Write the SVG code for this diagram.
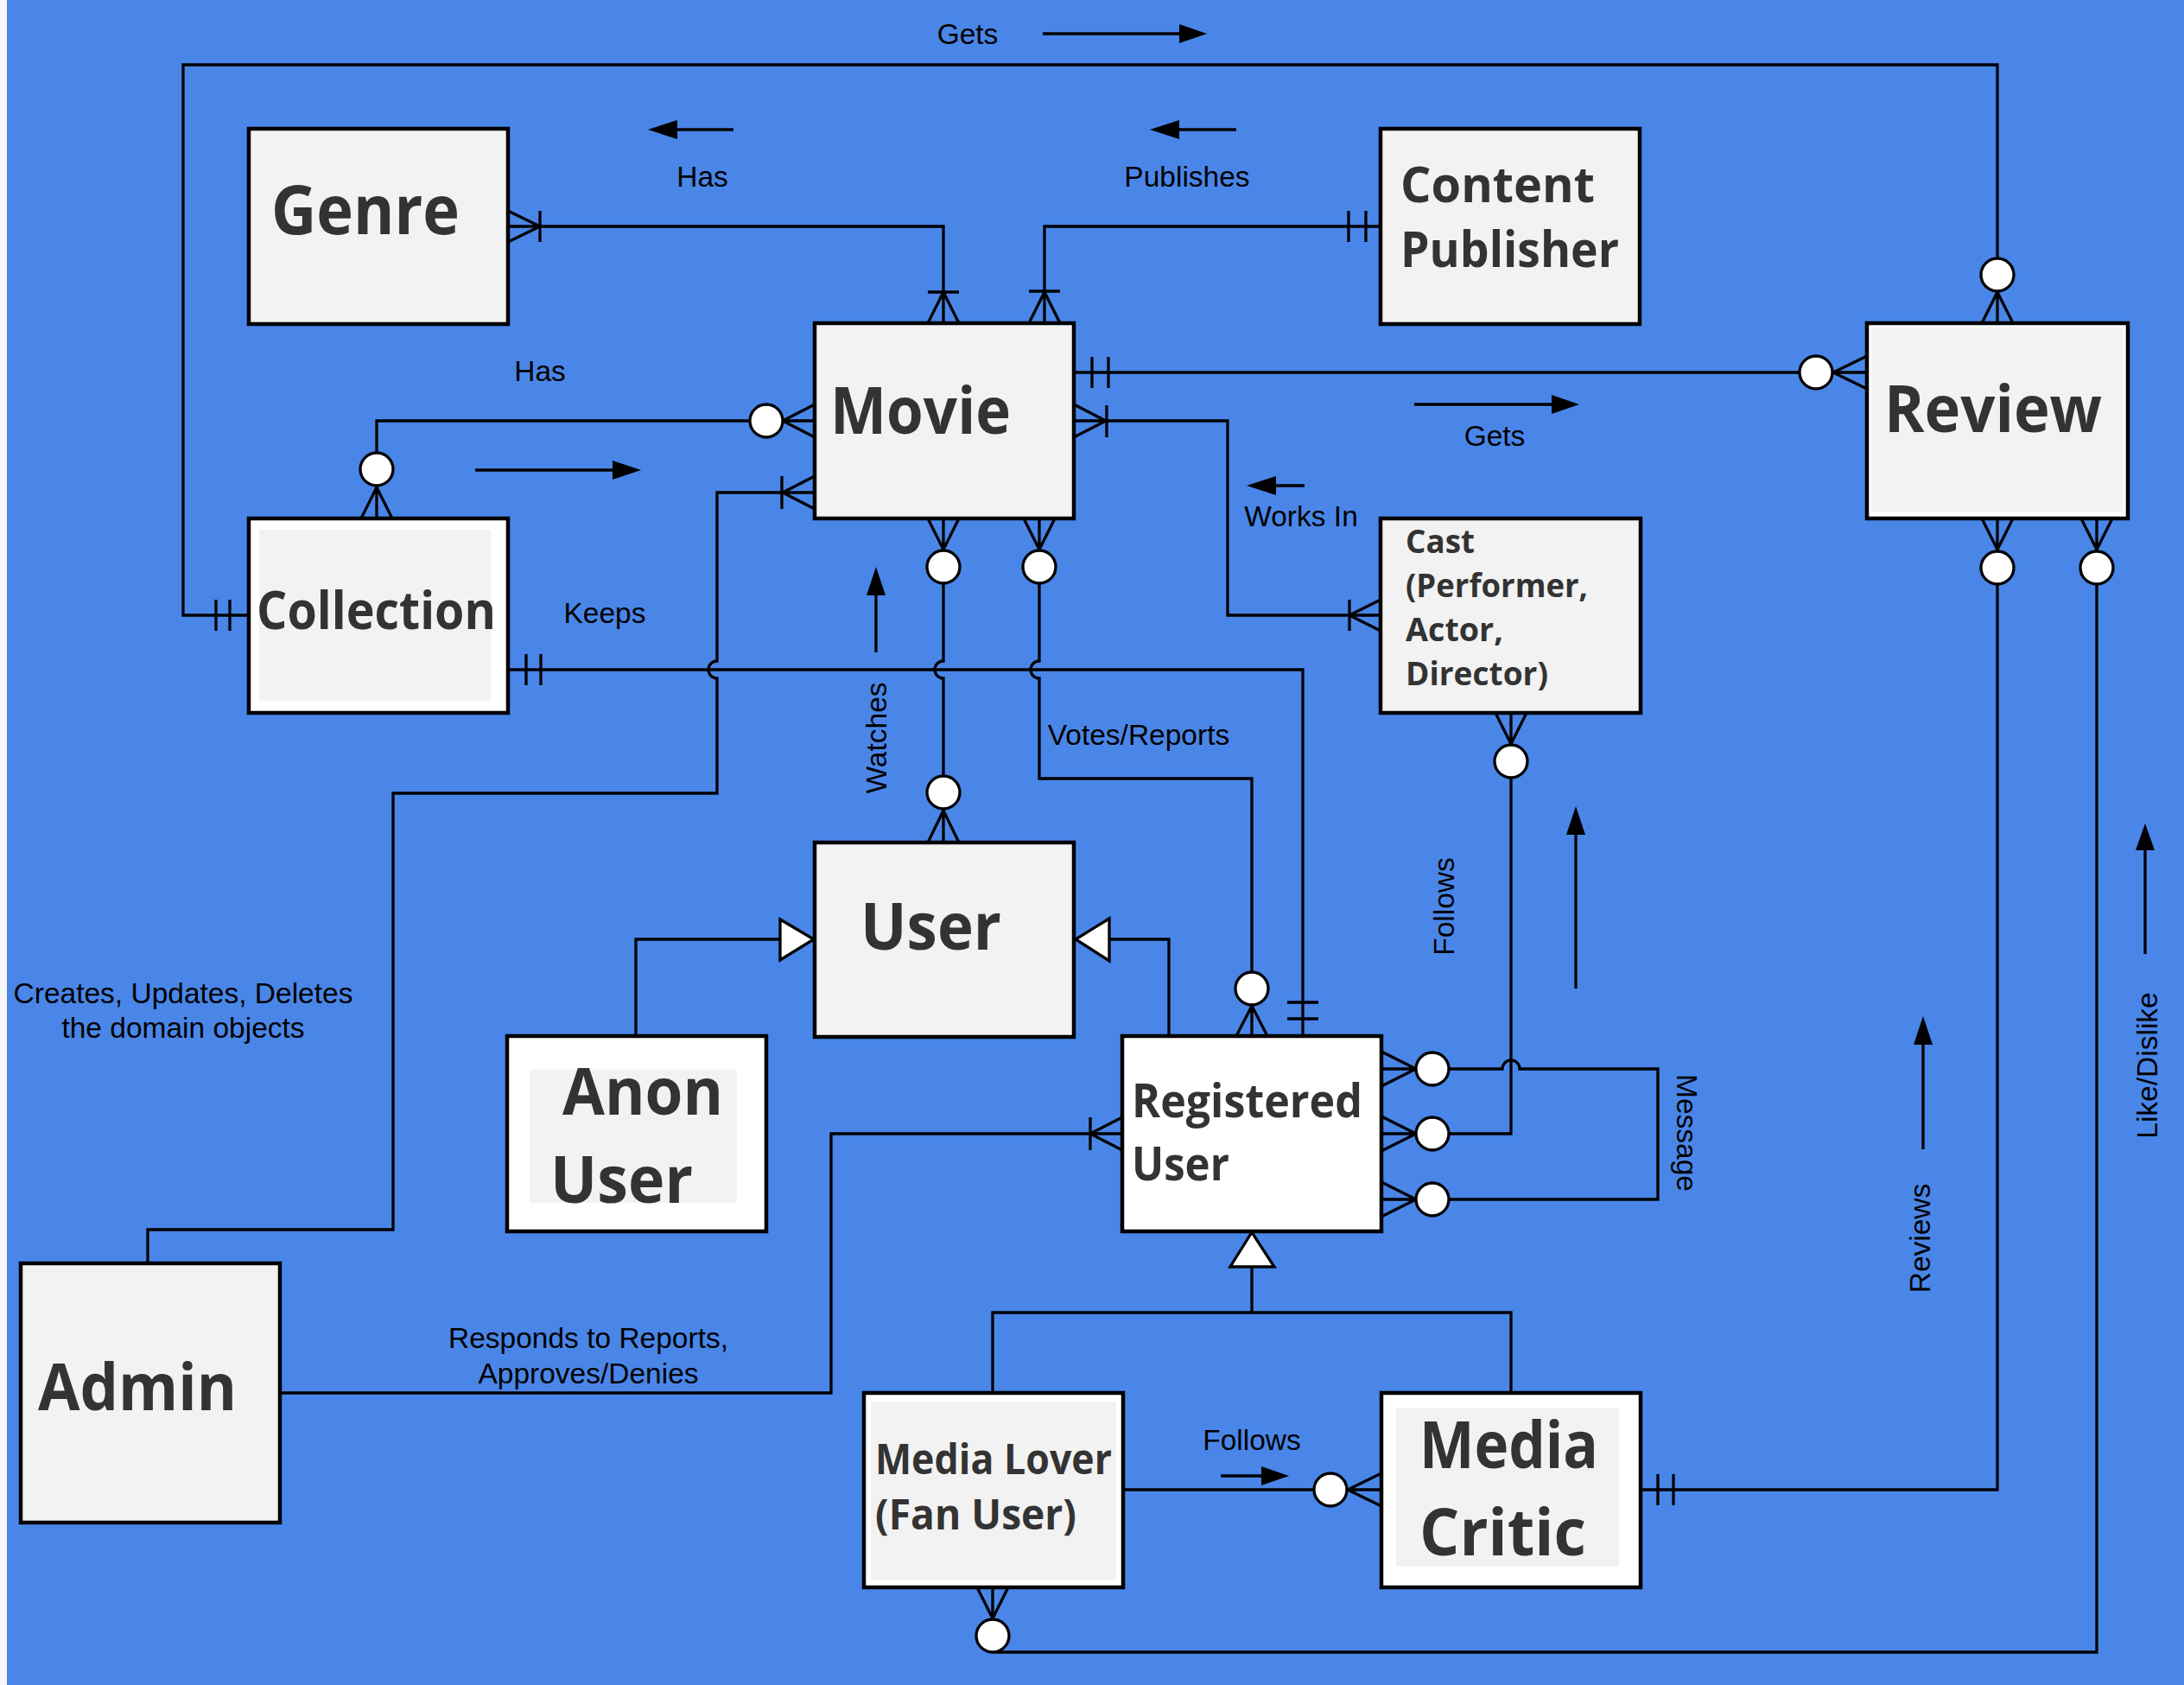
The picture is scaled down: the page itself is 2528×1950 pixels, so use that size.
<svg xmlns="http://www.w3.org/2000/svg" width="2528" height="1950" viewBox="0 0 2528 1950">
<style>
.ln{stroke:#000;stroke-width:3.3;fill:none}
.bx{stroke:#000;stroke-width:4.5}
.g{fill:#f2f2f2}
.w{fill:#fff}
.c{fill:#fff;stroke:#000;stroke-width:3.3}
.tri{fill:#fff;stroke:#000;stroke-width:3.3}
.ah{fill:#000}
.t{font-family:'Open Sans','Noto Sans',sans-serif;font-weight:bold;fill:#333}
.l{font-family:'Liberation Sans',Arial,sans-serif;font-size:33.5px;fill:#000}
</style>
<rect x="0" y="0" width="2528" height="1950" fill="#4a86e8"/>
<rect x="0" y="0" width="8" height="1950" fill="#f7f7f7"/>

<g id="connectors">
  <!-- Collection - Review (Gets) -->
  <path class="ln" d="M288,712 H212 V75 H2312 V299"/>
  <path class="ln" d="M250,694 V730 M266,694 V730"/>
  <path class="ln" d="M2312,337 V374 M2312,338 L2294,374 M2312,338 L2330,374"/>
  <circle class="c" cx="2312" cy="318" r="19"/>
  <!-- Genre - Movie -->
  <path class="ln" d="M588,262 H1092 V374"/>
  <path class="ln" d="M625,262 L588,244 M625,262 L588,280 M625,244 V280"/>
  <path class="ln" d="M1092,338 L1074,374 M1092,338 L1110,374 M1074,338 H1110"/>
  <!-- Publisher - Movie -->
  <path class="ln" d="M1598,262 H1209 V374"/>
  <path class="ln" d="M1561,244 V280 M1581,244 V280"/>
  <path class="ln" d="M1209,338 L1191,374 M1209,338 L1227,374 M1191,337 H1227"/>
  <!-- Movie - Review -->
  <path class="ln" d="M1243,431 H2083"/>
  <path class="ln" d="M1264,413 V449 M1283,413 V449"/>
  <path class="ln" d="M2121,431 H2161 M2122,431 L2161,412 M2122,431 L2161,450"/>
  <circle class="c" cx="2102" cy="431" r="19"/>
  <!-- Movie - Cast -->
  <path class="ln" d="M1243,487 H1421 V712 H1598"/>
  <path class="ln" d="M1280,487 L1243,468 M1280,487 L1243,506 M1281,469 V506"/>
  <path class="ln" d="M1562,712 L1598,694 M1562,712 L1598,730 M1562,694 V730"/>
  <!-- Movie - Collection -->
  <path class="ln" d="M943,487 H906 M906,487 L943,468 M906,487 L943,506"/>
  <circle class="c" cx="887" cy="487" r="19"/>
  <path class="ln" d="M868,487 H436 V524"/>
  <circle class="c" cx="436" cy="543" r="19"/>
  <path class="ln" d="M436,562 V600 M436,564 L418,600 M436,564 L454,600"/>
  <!-- Admin - Movie -->
  <path class="ln" d="M906,570 L943,551 M906,570 L943,589 M905,551 V589"/>
  <path class="ln" d="M943,570 H830 V765 A10,10 0 0 0 830,785 V918 H455 V1423 H171 V1462"/>
  <!-- Watches -->
  <path class="ln" d="M1092,600 V637 M1092,636 L1074,600 M1092,636 L1110,600"/>
  <circle class="c" cx="1092" cy="656" r="19"/>
  <path class="ln" d="M1092,675 V765 A10,10 0 0 0 1092,785 V898"/>
  <circle class="c" cx="1092" cy="917" r="19"/>
  <path class="ln" d="M1092,936 V975 M1092,938 L1074,975 M1092,938 L1110,975"/>
  <!-- Votes/Reports -->
  <path class="ln" d="M1203,600 V637 M1203,636 L1185,600 M1203,636 L1221,600"/>
  <circle class="c" cx="1203" cy="656" r="19"/>
  <path class="ln" d="M1203,675 V765 A10,10 0 0 0 1203,785 V901 H1449 V1125"/>
  <circle class="c" cx="1449" cy="1144" r="19"/>
  <path class="ln" d="M1449,1163 V1199 M1449,1164 L1431,1199 M1449,1164 L1467,1199"/>
  <!-- Keeps -->
  <path class="ln" d="M588,775 H1508 V1199"/>
  <path class="ln" d="M609,757 V793 M626,757 V793"/>
  <path class="ln" d="M1490,1160 H1526 M1490,1179 H1526"/>
  <!-- Inheritance to User -->
  <path class="ln" d="M736,1199 V1087 H903"/>
  <polygon class="tri" points="903,1064 903,1111 942,1087"/>
  <path class="ln" d="M1353,1199 V1087 H1284"/>
  <polygon class="tri" points="1284,1063 1284,1112 1245,1087"/>
  <!-- Admin - Registered User -->
  <path class="ln" d="M324,1612 H962 V1312 H1299"/>
  <path class="ln" d="M1262,1312 L1299,1293 M1262,1312 L1299,1331 M1262,1293 V1331"/>
  <!-- Registered user right crows -->
  <path class="ln" d="M1599,1237 H1639 M1599,1217 L1639,1237 M1599,1257 L1639,1237"/>
  <path class="ln" d="M1599,1312 H1639 M1599,1292 L1639,1312 M1599,1332 L1639,1312"/>
  <path class="ln" d="M1599,1388 H1639 M1599,1368 L1639,1388 M1599,1408 L1639,1388"/>
  <path class="ln" d="M1677,1237 H1739 A10,10 0 0 1 1759,1237 H1919 V1388 H1677"/>
  <path class="ln" d="M1677,1312 H1749 V900"/>
  <circle class="c" cx="1658" cy="1237" r="19"/>
  <circle class="c" cx="1658" cy="1312" r="19"/>
  <circle class="c" cx="1658" cy="1388" r="19"/>
  <!-- Cast bottom -->
  <path class="ln" d="M1749,825 V862 M1749,861 L1731,825 M1749,861 L1767,825"/>
  <circle class="c" cx="1749" cy="881" r="19"/>
  <!-- Inheritance to Registered User -->
  <path class="ln" d="M1149,1612 V1519 H1749 V1612 M1449,1519 V1466"/>
  <polygon class="tri" points="1424,1466 1475,1466 1449,1426"/>
  <!-- Lover - Critic -->
  <path class="ln" d="M1300,1724 H1521"/>
  <circle class="c" cx="1540" cy="1724" r="19"/>
  <path class="ln" d="M1559,1724 H1599 M1560,1724 L1599,1705 M1560,1724 L1599,1743"/>
  <!-- Critic - Review (Reviews) -->
  <path class="ln" d="M1899,1724 H2312 V676"/>
  <path class="ln" d="M1919,1706 V1742 M1937,1706 V1742"/>
  <path class="ln" d="M2312,600 V637 M2312,636 L2294,600 M2312,636 L2330,600"/>
  <circle class="c" cx="2312" cy="657" r="19"/>
  <!-- Lover - Review (Like/Dislike) -->
  <path class="ln" d="M1149,1837 V1874 M1149,1873 L1131,1837 M1149,1873 L1167,1837"/>
  <path class="ln" d="M1149,1912 H2427 V676"/>
  <circle class="c" cx="1149" cy="1893" r="19"/>
  <path class="ln" d="M2427,600 V637 M2427,636 L2409,600 M2427,636 L2445,600"/>
  <circle class="c" cx="2427" cy="657" r="19"/>

  <!-- direction arrows -->
  <path class="ln" d="M1207,39 H1366"/>
  <polygon class="ah" points="1365,28 1397,39 1365,50"/>
  <path class="ln" d="M783,150 H849"/>
  <polygon class="ah" points="750,150 784,139 784,161"/>
  <path class="ln" d="M1364,150 H1431"/>
  <polygon class="ah" points="1331,150 1365,139 1365,161"/>
  <path class="ln" d="M550,544 H710"/>
  <polygon class="ah" points="709,533 742,544 709,555"/>
  <path class="ln" d="M1637,468 H1797"/>
  <polygon class="ah" points="1796,457 1828,468 1796,479"/>
  <path class="ln" d="M1476,562 H1510"/>
  <polygon class="ah" points="1443,562 1477,551 1477,573"/>
  <path class="ln" d="M1014,688 V755"/>
  <polygon class="ah" points="1014,656 1003,689 1025,689"/>
  <path class="ln" d="M1824,965 V1144"/>
  <polygon class="ah" points="1824,933 1813,966 1835,966"/>
  <path class="ln" d="M2226,1208 V1330"/>
  <polygon class="ah" points="2226,1176 2215,1209 2237,1209"/>
  <path class="ln" d="M2483,983 V1104"/>
  <polygon class="ah" points="2483,953 2472,984 2494,984"/>
  <path class="ln" d="M1413,1708 H1461"/>
  <polygon class="ah" points="1460,1697 1492,1708 1460,1719"/>

  <!-- labels -->
  <text class="l" x="1120" y="51" text-anchor="middle">Gets</text>
  <text class="l" x="813" y="216" text-anchor="middle">Has</text>
  <text class="l" x="1374" y="216" text-anchor="middle">Publishes</text>
  <text class="l" x="625" y="441" text-anchor="middle">Has</text>
  <text class="l" x="1730" y="516" text-anchor="middle">Gets</text>
  <text class="l" x="1506" y="609" text-anchor="middle">Works In</text>
  <text class="l" x="700" y="721" text-anchor="middle">Keeps</text>
  <text class="l" x="1318" y="862" text-anchor="middle">Votes/Reports</text>
  <text class="l" text-anchor="middle" transform="translate(1014,854) rotate(-90)" x="0" y="12">Watches</text>
  <text class="l" text-anchor="middle" transform="translate(1671,1049) rotate(-90)" x="0" y="12">Follows</text>
  <text class="l" text-anchor="middle" transform="translate(1953,1311) rotate(90)" x="0" y="12">Message</text>
  <text class="l" text-anchor="middle" transform="translate(2222,1433) rotate(-90)" x="0" y="12">Reviews</text>
  <text class="l" text-anchor="middle" transform="translate(2485,1233) rotate(-90)" x="0" y="12">Like/Dislike</text>
  <text class="l" x="212" y="1161" text-anchor="middle">Creates, Updates, Deletes</text>
  <text class="l" x="212" y="1201" text-anchor="middle">the domain objects</text>
  <text class="l" x="681" y="1560" text-anchor="middle">Responds to Reports,</text>
  <text class="l" x="681" y="1601" text-anchor="middle">Approves/Denies</text>
  <text class="l" x="1449" y="1678" text-anchor="middle">Follows</text>
</g>

<g id="genre">
  <rect class="bx g" x="288" y="149" width="300" height="226"/>
  <text class="t" x="314" y="271" font-size="78" textLength="218" lengthAdjust="spacingAndGlyphs">Genre</text>
</g>
<g id="movie">
  <rect class="bx g" x="943" y="374" width="300" height="226"/>
  <text class="t" x="961" y="502" font-size="76" textLength="209" lengthAdjust="spacingAndGlyphs">Movie</text>
</g>
<g id="content-publisher">
  <rect class="bx g" x="1598" y="149" width="300" height="226"/>
  <text class="t" x="1621" y="234" font-size="58" textLength="225" lengthAdjust="spacingAndGlyphs">Content</text>
  <text class="t" x="1621" y="309" font-size="58" textLength="253" lengthAdjust="spacingAndGlyphs">Publisher</text>
</g>
<g id="review">
  <rect class="bx w" x="2161" y="374" width="302" height="226"/>
  <rect class="g" x="2166" y="379" width="292" height="213"/>
  <text class="t" x="2181" y="500" font-size="76" textLength="252" lengthAdjust="spacingAndGlyphs">Review</text>
</g>
<g id="collection">
  <rect class="bx w" x="288" y="600" width="300" height="225"/>
  <rect class="g" x="300" y="613" width="268" height="198"/>
  <text class="t" x="297" y="728" font-size="60" textLength="277" lengthAdjust="spacingAndGlyphs">Collection</text>
</g>
<g id="cast">
  <rect class="bx g" x="1598" y="600" width="301" height="225"/>
  <text class="t" x="1627" y="640" font-size="38" font-weight="600" textLength="80" lengthAdjust="spacingAndGlyphs">Cast</text>
  <text class="t" x="1627" y="691" font-size="38" font-weight="600" textLength="211" lengthAdjust="spacingAndGlyphs">(Performer,</text>
  <text class="t" x="1627" y="742" font-size="38" font-weight="600" textLength="113" lengthAdjust="spacingAndGlyphs">Actor,</text>
  <text class="t" x="1627" y="793" font-size="38" font-weight="600" textLength="165" lengthAdjust="spacingAndGlyphs">Director)</text>
</g>
<g id="user">
  <rect class="bx g" x="943" y="975" width="300" height="225"/>
  <text class="t" x="996" y="1099" font-size="75" textLength="163" lengthAdjust="spacingAndGlyphs">User</text>
</g>
<g id="anon-user">
  <rect class="bx w" x="587" y="1199" width="300" height="226"/>
  <rect class="g" x="613" y="1238" width="240" height="154"/>
  <text class="t" x="651" y="1290" font-size="75" textLength="186" lengthAdjust="spacingAndGlyphs">Anon</text>
  <text class="t" x="637" y="1392" font-size="75" textLength="165" lengthAdjust="spacingAndGlyphs">User</text>
</g>
<g id="registered-user">
  <rect class="bx w" x="1299" y="1199" width="300" height="226"/>
  <text class="t" x="1310" y="1293" font-size="54" textLength="267" lengthAdjust="spacingAndGlyphs">Registered</text>
  <text class="t" x="1310" y="1366" font-size="54" textLength="113" lengthAdjust="spacingAndGlyphs">User</text>
</g>
<g id="admin">
  <rect class="bx g" x="24" y="1462" width="300" height="300"/>
  <text class="t" x="44" y="1632" font-size="76" textLength="230" lengthAdjust="spacingAndGlyphs">Admin</text>
</g>
<g id="media-lover">
  <rect class="bx w" x="1000" y="1612" width="300" height="225"/>
  <rect class="g" x="1008" y="1622" width="284" height="206"/>
  <text class="t" x="1013" y="1706" font-size="48" textLength="274" lengthAdjust="spacingAndGlyphs">Media Lover</text>
  <text class="t" x="1013" y="1770" font-size="48" textLength="233" lengthAdjust="spacingAndGlyphs">(Fan User)</text>
</g>
<g id="media-critic">
  <rect class="bx w" x="1599" y="1612" width="300" height="225"/>
  <rect class="g" x="1616" y="1630" width="258" height="183"/>
  <text class="t" x="1643" y="1699" font-size="76" textLength="207" lengthAdjust="spacingAndGlyphs">Media</text>
  <text class="t" x="1643" y="1800" font-size="76" textLength="193" lengthAdjust="spacingAndGlyphs">Critic</text>
</g>
</svg>
